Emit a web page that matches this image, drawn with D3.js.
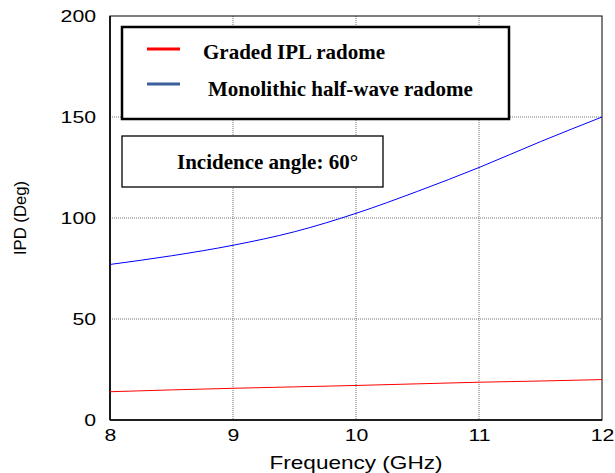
<!DOCTYPE html>
<html>
<head>
<meta charset="utf-8">
<script src="https://cdn.jsdelivr.net/npm/d3@7"></script>
<style>
    body { margin: 0; background: #fff; }
    svg { display: block; }
</style>
</head>
<body>
<div id="chart"></div>
<script>
(function() {
    // values
    const freq = [8, 8.5, 9, 9.5, 10, 10.5, 11, 11.5, 12];
    const graded_ipl = [14.0, 14.9, 15.7, 16.4, 17.1, 17.9, 18.7, 19.3, 20.0];
    const monolithic = [77.0, 81.3, 86.5, 93.2, 102.3, 113.2, 125.0, 137.8, 150.0];
    const x_ticks = [8, 9, 10, 11, 12];
    const y_ticks = [0, 50, 100, 150, 200];
    const series_names = ['Graded IPL radome', 'Monolithic half-wave radome'];
    const series_colors = ['#ff0000', '#0000ff'];
    const legend_colors = ['#ff0000', '#3b5f9a'];

    const fmt = {
        width: 615,
        height: 473,
        margins: {top: 16, right: 13, bottom: 53, left: 110}
    };

    // the sans-serif labels in the reference are stretched sideways
    const stretch = 1.33;

    let width = fmt.width - fmt.margins.left - fmt.margins.right,
        height = fmt.height - fmt.margins.top - fmt.margins.bottom;

    let svg = d3.select('#chart').append('svg')
        .attr('width', fmt.width)
        .attr('height', fmt.height)
        .attr('font-family', 'Liberation Sans, Arial, sans-serif');

    let x = d3.scaleLinear().domain([8, 12]).range([0, width]),
        y = d3.scaleLinear().domain([0, 200]).range([height, 0]);

    let g = svg.append('g')
        .attr('transform', 'translate(' + fmt.margins.left + ',' + fmt.margins.top + ')');

    // grid
    g.append('g')
        .selectAll('line')
        .data(x_ticks.slice(1, -1))
        .enter().append('line')
        .attr('x1', (d) => x(d)).attr('x2', (d) => x(d))
        .attr('y1', 0).attr('y2', height)
        .attr('stroke', '#777').attr('stroke-width', 1)
        .attr('stroke-dasharray', '1,1');

    g.append('g')
        .selectAll('line')
        .data(y_ticks.slice(1, -1))
        .enter().append('line')
        .attr('x1', 0).attr('x2', width)
        .attr('y1', (d) => y(d)).attr('y2', (d) => y(d))
        .attr('stroke', '#777').attr('stroke-width', 1)
        .attr('stroke-dasharray', '1,1');

    // frame
    g.append('rect')
        .attr('width', width)
        .attr('height', height)
        .attr('fill', 'none')
        .attr('stroke', '#000')
        .attr('stroke-width', 1);

    g.append('line')
        .attr('x1', 0).attr('x2', 0).attr('y1', 0).attr('y2', height)
        .attr('stroke', '#000').attr('stroke-width', 1.6);
    g.append('line')
        .attr('x1', 0).attr('x2', width).attr('y1', height).attr('y2', height)
        .attr('stroke', '#000').attr('stroke-width', 1.6);

    // axes (labels only)
    let x_axis = g.append('g')
        .attr('transform', 'translate(0,' + height + ')')
        .call(d3.axisBottom(x).tickValues(x_ticks).tickSize(0).tickPadding(10).tickFormat(d3.format('d')));
    x_axis.select('.domain').remove();
    x_axis.selectAll('text')
        .attr('font-size', 16)
        .attr('fill', '#000')
        .attr('dy', '0.71em')
        .attr('transform', 'scale(' + stretch + ',1)');

    let y_axis = g.append('g')
        .call(d3.axisLeft(y).tickValues(y_ticks).tickSize(0).tickPadding(10.5).tickFormat(d3.format('d')));
    y_axis.select('.domain').remove();
    y_axis.selectAll('text')
        .attr('font-size', 16)
        .attr('fill', '#000')
        .attr('transform', 'scale(' + stretch + ',1)');

    svg.append('text')
        .attr('transform', 'translate(' + (fmt.margins.left + x(10)) + ',469) scale(1.29,1)')
        .attr('text-anchor', 'middle')
        .attr('font-size', 17.5)
        .text('Frequency (GHz)');

    svg.append('text')
        .attr('transform', 'translate(26,218) rotate(-90)')
        .attr('text-anchor', 'middle')
        .attr('font-size', 16.5)
        .attr('textLength', 74)
        .attr('lengthAdjust', 'spacingAndGlyphs')
        .text('IPD (Deg)');

    // curves
    let line = d3.line()
        .x((d) => x(d[0]))
        .y((d) => y(d[1]))
        .curve(d3.curveMonotoneX);

    [graded_ipl, monolithic].forEach(function(values, i) {
        g.append('path')
            .datum(freq.map((f, k) => [f, values[k]]))
            .attr('fill', 'none')
            .attr('stroke', series_colors[i])
            .attr('stroke-width', 1)
            .attr('d', line);
    });

    // legend box
    let legend = svg.append('g')
        .attr('font-family', 'Liberation Serif, Times New Roman, serif')
        .attr('font-weight', 'bold')
        .attr('font-size', 21);

    legend.append('rect')
        .attr('x', 122).attr('y', 27)
        .attr('width', 387).attr('height', 92)
        .attr('fill', '#fff')
        .attr('stroke', '#000')
        .attr('stroke-width', 2.5);

    series_names.forEach(function(name, i) {
        let ly = 49 + i * 35;
        legend.append('line')
            .attr('x1', 147).attr('x2', 180)
            .attr('y1', ly).attr('y2', ly)
            .attr('stroke', legend_colors[i])
            .attr('stroke-width', 3);
        legend.append('text')
            .attr('x', i === 0 ? 203 : 208)
            .attr('y', ly + 10 + i * 2)
            .text(name);
    });

    // annotation box
    svg.append('rect')
        .attr('x', 122).attr('y', 136)
        .attr('width', 261).attr('height', 51)
        .attr('fill', '#fff')
        .attr('stroke', '#000')
        .attr('stroke-width', 1.3);

    svg.append('text')
        .attr('x', 177)
        .attr('y', 169)
        .attr('font-family', 'Liberation Serif, Times New Roman, serif')
        .attr('font-weight', 'bold')
        .attr('font-size', 21)
        .text('Incidence angle: 60\u00b0');
}());
</script>
</body>
</html>
